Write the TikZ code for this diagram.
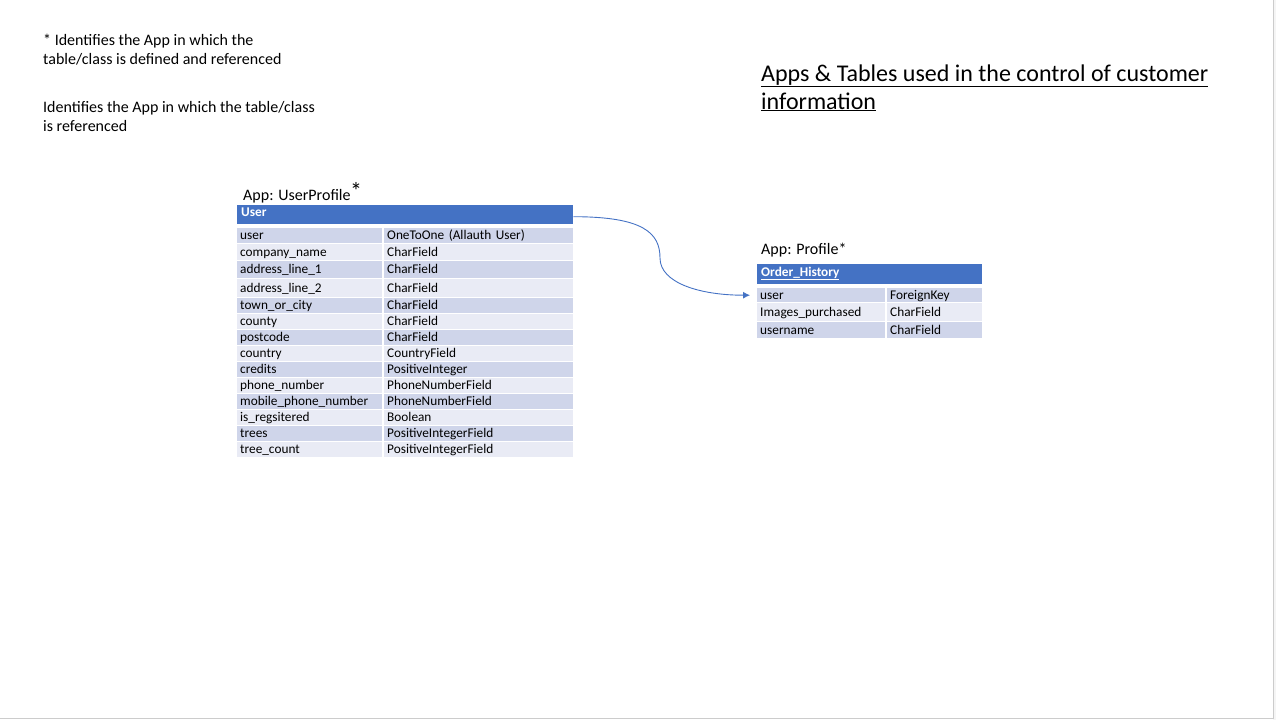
\documentclass[tikz,border=0pt]{standalone}
\usepackage{fontspec}
\setmainfont{Carlito}
\usetikzlibrary{arrows.meta,positioning}

\definecolor{hdrblue}{HTML}{4472C4}
\definecolor{rowdark}{HTML}{CFD5EA}
\definecolor{rowlight}{HTML}{E9EBF5}

\begin{document}
\begin{tikzpicture}[
  x=1pt, y=-1pt,
  note/.style={anchor=base west, inner sep=0pt, align=left, font=\fontsize{16}{19}\selectfont},
  title/.style={anchor=base west, inner sep=0pt, align=left, font=\fontsize{24}{28}\selectfont},
  hdr/.style={fill=hdrblue, anchor=north west, inner sep=0pt},
  hdrtext/.style={anchor=base west, inner sep=0pt, text=white, font=\fontsize{13.3}{15}\selectfont\bfseries},
  cell/.style={anchor=north west, inner xsep=3pt, inner ysep=0pt, align=left, text height=10pt, text depth=2pt, font=\fontsize{13.3}{15}\selectfont},
  link/.style={hdrblue, line width=0.9pt, -{Latex[length=7pt, width=7pt]}}
]
\useasboundingbox (0,0) rectangle (1276,720);
\fill[gray!8] (1273,0) rectangle (1276,720);
\draw[gray!40, line width=1pt] (1273.5,0) -- (1273.5,718.5) -- (0,718.5);

% notes and title
\node[note] (key-def) at (43,64) {* Identifies the App in which the\\table/class is defined and referenced};
\node[note] (key-ref) at (43,131) {Identifies the App in which the table/class\\is referenced};
\node[title] (ttl) at (761,109) {\underline{Apps \& Tables used in the control of customer}\\\underline{information}};

% UserProfile app
\node[note] (app-usr) at (243,200) {App: UserProfile};
\node[anchor=base west, inner sep=0pt, font=\fontsize{24}{24}\selectfont] (app-usr-star) at (350,199) {*};
\node[hdr, minimum width=336pt, minimum height=19pt] (usr-hdr) at (237,205) {};
\node[hdrtext] (usr-hdr-txt) at (241,216) {User};
\foreach \i/\ytop/\rowh/\fname/\ftype/\shade in {
  1/228/15/user/OneToOne (Allauth User)/rowdark,
  2/244/16/company\_name/CharField/rowlight,
  3/261/17/address\_line\_1/CharField/rowdark,
  4/279/18/address\_line\_2/CharField/rowlight,
  5/298/15/town\_or\_city/CharField/rowdark,
  6/314/15/county/CharField/rowlight,
  7/330/15/postcode/CharField/rowdark,
  8/346/15/country/CountryField/rowlight,
  9/362/15/credits/PositiveInteger/rowdark,
  10/378/15/phone\_number/PhoneNumberField/rowlight,
  11/394/15/mobile\_phone\_number/PhoneNumberField/rowdark,
  12/410/15/is\_regsitered/Boolean/rowlight,
  13/426/15/trees/PositiveIntegerField/rowdark,
  14/442/15/tree\_count/PositiveIntegerField/rowlight}{
  \node[cell, fill=\shade, text width=139pt, minimum height=\rowh pt] (usr-f\i) at (237,\ytop) {\fname};
  \node[cell, fill=\shade, text width=183pt, minimum height=\rowh pt] (usr-t\i) at (384,\ytop) {\ftype};
}

% Profile app
\node[note] (app-prof) at (761,254) {App: Profile*};
\node[hdr, minimum width=225pt, minimum height=20pt] (ord-hdr) at (757,264) {};
\node[hdrtext] (ord-hdr-txt) at (761,276) {\underline{Order\_History}};
\foreach \i/\ytop/\rowh/\fname/\ftype/\shade in {
  1/288/14/user/ForeignKey/rowdark,
  2/303/18/Images\_purchased/CharField/rowlight,
  3/322/16/username/CharField/rowdark}{
  \node[cell, fill=\shade, text width=122pt, minimum height=\rowh pt] (ord-f\i) at (757,\ytop) {\fname};
  \node[cell, fill=\shade, text width=89pt, minimum height=\rowh pt] (ord-t\i) at (887,\ytop) {\ftype};
}

% link
\coordinate (bend) at (660,258);
\draw[link] ([yshift=-2pt]usr-hdr.east) .. controls +(70,0) and +(0,-25) .. (bend)
  .. controls +(0,25) and +(-50,0) .. ([xshift=-7pt]ord-f1.west);
\end{tikzpicture}
\end{document}
